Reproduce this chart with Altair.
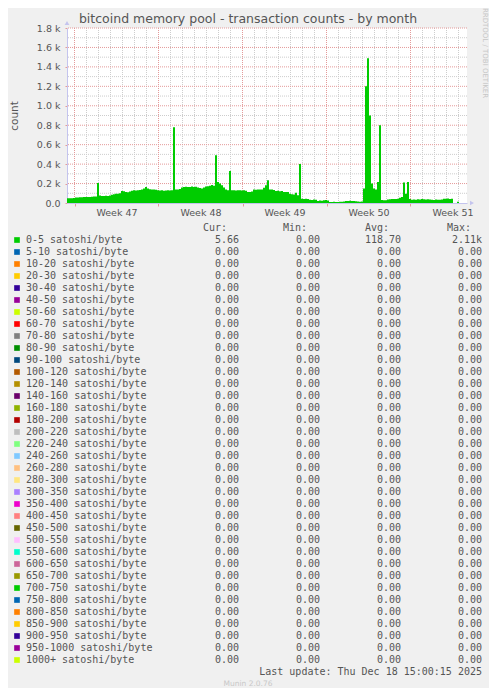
import altair as alt
import pandas as pd

TITLE = "bitcoind memory pool - transaction counts - by month"

# 0-5 satoshi/byte transaction count, one value per 4-hour step from graph start
counts_0_5 = [
    50, 50, 50, 52, 56, 57, 58, 60, 62, 62, 63, 62, 64, 66, 68, 205, 78, 72, 72, 74,
    72, 76, 86, 90, 96, 95, 100, 124, 120, 112, 110, 118, 127, 130, 128, 132, 135, 140, 150, 165,
    150, 142, 140, 138, 136, 130, 128, 130, 127, 128, 130, 128, 130, 780, 140, 138, 145, 160, 165, 168,
    165, 165, 170, 165, 168, 160, 155, 150, 160, 170, 172, 178, 186, 178, 492, 217, 200, 182, 160, 140,
    131, 330, 131, 130, 128, 132, 130, 128, 131, 125, 114, 112, 118, 138, 136, 140, 138, 140, 158, 182,
    234, 140, 138, 135, 124, 126, 122, 124, 114, 113, 112, 96, 90, 88, 105, 80, 400, 45, 42, 45,
    40, 34, 32, 35, 34, 21, 25, 22, 28, 30, 26, 10, 10, 12, 10, 10, 12, 14, 15, 20,
    21, 22, 20, 21, 18, 16, 14, 15, 150, 1200, 1490, 900, 200, 150, 140, 217, 800, 30, 28, 28,
    35, 38, 40, 42, 40, 45, 55, 62, 210, 96, 217, 40, 34, 35, 34, 38, 36, 40, 38, 35,
    38, 36, 34, 32, 35, 34, 33, 36, 45, 44, 46, 42, 45, 0, 0, 14, 0,
]
STEP_DAYS = 1 / 6            # 4 hours per step
X_END_DAYS = 400 / 12        # visible span of the graph in days
week_starts = [0.625, 7.625, 14.625, 21.625, 28.625]   # Monday 00:00 positions
week_numbers = [47, 48, 49, 50, 51]
day_lines = [0.625 + k for k in range(33)]
y_major = [0, 200, 400, 600, 800, 1000, 1200, 1400, 1600, 1800]
y_minor = [100, 300, 500, 700, 900, 1100, 1300, 1500, 1700]

ranges = ["0-5", "5-10", "10-20", "20-30", "30-40", "40-50", "50-60", "60-70", "70-80",
          "80-90", "90-100", "100-120", "120-140", "140-160", "160-180", "180-200",
          "200-220", "220-240", "240-260", "260-280", "280-300", "300-350", "350-400",
          "400-450", "450-500", "500-550", "550-600", "600-650", "650-700", "700-750",
          "750-800", "800-850", "850-900", "900-950", "950-1000", "1000+"]
labels = [r + " satoshi/byte" for r in ranges]
colors = ["#00CC00", "#0066B3", "#FF8000", "#FFCC00", "#330099", "#990099", "#CCFF00",
          "#FF0000", "#808080", "#008F00", "#00487D", "#B35A00", "#B38F00", "#6B006B",
          "#8FB300", "#B30000", "#BEBEBE", "#80FF80", "#80C9FF", "#FFC080", "#FFE680",
          "#AA80FF", "#EE00CC", "#FF8080", "#666600", "#FFBFFF", "#00FFCC", "#CC6699",
          "#999900", "#00CC00", "#0066B3", "#FF8000", "#FFCC00", "#330099", "#990099",
          "#CCFF00"]
cur_vals = [5.66] + [0.0] * 35
min_vals = [0.0] * 36
avg_vals = [118.70] + [0.0] * 35
max_vals = [2110.0] + [0.0] * 35
header = ["Cur:", "Min:", "Avg:", "Max:"]
LAST_UPDATE = "Last update: Thu Dec 18 15:00:15 2025"
MUNIN = "Munin 2.0.76"
RRD = "RRDTOOL / TOBI OETIKER"

NB = "\u00a0"


def fmt(v):
    if v >= 1000:
        return "%.2fk" % (v / 1000)
    return "%.2f" % v + NB


series = pd.DataFrame({"d": [i * STEP_DAYS for i in range(len(counts_0_5))],
                       "count": counts_0_5})

TXT = "#555555"
MONO = "DejaVu Sans Mono"
SANS = "DejaVu Sans"
MAJOR = "#E49A9A"
MINOR = "#CDCDCD"
AXISC = "#C4C4EE"

xs = alt.Scale(domain=[0, X_END_DAYS], nice=False, zero=False)
ys = alt.Scale(domain=[0, 1800], nice=False, zero=True)

week_expr = "'Week ' + (%d + round((datum.value - %s) / 7))" % (week_numbers[0], week_starts[0])

x_axis = alt.Axis(
    values=week_starts, grid=False, labelExpr=week_expr, labelOffset=42,
    labelFlush=False, labelOverlap=False, tickColor=MAJOR, tickSize=3,
    domainColor=AXISC, labelFont=SANS, labelFontSize=9.5, labelColor=TXT,
    labelPadding=1.5, title=None)
y_axis = alt.Axis(
    values=y_major, grid=False,
    labelExpr="datum.value == 0 ? '0.0' : format(datum.value / 1000, '.1f') + ' k'",
    tickColor=MAJOR, tickSize=2, domainColor=AXISC, labelFont=SANS,
    labelFontSize=9.5, labelColor=TXT, labelPadding=5,
    title="count", titleX=-53, titleY=87.5, titleAngle=270, titleAlign="center",
    titleBaseline="middle", titleFont=SANS, titleFontSize=10.5,
    titleFontWeight="normal", titleColor=TXT)

minor_v = alt.Chart(pd.DataFrame({"d": [d for d in day_lines if d not in week_starts]})).mark_rule(
    color=MINOR, strokeDash=[1, 1], strokeWidth=1).encode(x=alt.X("d:Q", scale=xs, axis=x_axis))
minor_h = alt.Chart(pd.DataFrame({"count": y_minor})).mark_rule(
    color=MINOR, strokeDash=[1, 1], strokeWidth=1).encode(
    y=alt.Y("count:Q", scale=ys, axis=y_axis))
major_v = alt.Chart(pd.DataFrame({"d": week_starts})).mark_rule(
    color=MAJOR, strokeDash=[1, 1], strokeWidth=1).encode(x=alt.X("d:Q", scale=xs, axis=x_axis))
major_h = alt.Chart(pd.DataFrame({"count": y_major[1:]})).mark_rule(
    color=MAJOR, strokeDash=[1, 1], strokeWidth=1).encode(
    y=alt.Y("count:Q", scale=ys, axis=y_axis))

area = alt.Chart(series).mark_area(color="#00CC00", interpolate="step-after").encode(
    x=alt.X("d:Q", scale=xs, axis=x_axis),
    y=alt.Y("count:Q", scale=ys, axis=y_axis),
)

one = pd.DataFrame({"t": [TITLE]})
arrow_up = alt.Chart(one).mark_point(shape="triangle-up", filled=True, size=22,
                                     color=AXISC, opacity=1).encode(
    x=alt.value(0), y=alt.value(-5))
arrow_right = alt.Chart(one).mark_point(shape="triangle-right", filled=True, size=22,
                                        color=AXISC, opacity=1).encode(
    x=alt.value(405), y=alt.value(175))

plot = alt.layer(minor_v, minor_h, major_v, major_h, area, arrow_up, arrow_right)

title = alt.Chart(one).mark_text(font=SANS, fontSize=12.5, color=TXT, align="center",
                                 baseline="middle").encode(
    x=alt.value(181), y=alt.value(-9), text="t:N")
rrd = alt.Chart(pd.DataFrame({"t": [RRD]})).mark_text(
    font=SANS, fontSize=7, color="#C6C6C6", align="center", baseline="middle",
    angle=90).encode(x=alt.value(418), y=alt.value(25), text="t:N")
munin = alt.Chart(pd.DataFrame({"t": [MUNIN]})).mark_text(
    font=SANS, fontSize=7.5, color="#C8C8C8", align="center", baseline="middle").encode(
    x=alt.value(181), y=alt.value(656), text="t:N")

legend_df = pd.DataFrame({
    "row": list(range(1, 37)),
    "label": labels,
    "cur": [fmt(v) for v in cur_vals],
    "min": [fmt(v) for v in min_vals],
    "avg": [fmt(v) for v in avg_vals],
    "max": [fmt(v) for v in max_vals],
})
head_df = pd.DataFrame({"row": [0] * 4, "h": header, "col": [0, 1, 2, 3]})
last_df = pd.DataFrame({"row": [37], "t": [LAST_UPDATE]})


def ly():
    return alt.Y("row:Q", scale=alt.Scale(domain=[0, 37], range=[200, 644], nice=False,
                                          zero=False), axis=None)


swatch = alt.Chart(legend_df).mark_square(size=32, opacity=1).encode(
    x=alt.value(-50), y=ly(),
    color=alt.Color("label:N", scale=alt.Scale(domain=labels, range=colors), legend=None))
txt_kw = dict(font=MONO, fontSize=10, color=TXT, baseline="middle")
lab = alt.Chart(legend_df).mark_text(align="left", **txt_kw).encode(
    x=alt.value(-41), y=ly(), text="label:N")
c_cur = alt.Chart(legend_df).mark_text(align="right", **txt_kw).encode(
    x=alt.value(172), y=ly(), text="cur:N")
c_min = alt.Chart(legend_df).mark_text(align="right", **txt_kw).encode(
    x=alt.value(253), y=ly(), text="min:N")
c_avg = alt.Chart(legend_df).mark_text(align="right", **txt_kw).encode(
    x=alt.value(334), y=ly(), text="avg:N")
c_max = alt.Chart(legend_df).mark_text(align="right", **txt_kw).encode(
    x=alt.value(415), y=ly(), text="max:N")
heads = []
for k, xpos in enumerate([136, 216, 298, 380]):
    heads.append(alt.Chart(head_df[head_df.col == k]).mark_text(align="left", **txt_kw).encode(
        x=alt.value(xpos), y=ly(), text="h:N"))
last = alt.Chart(last_df).mark_text(align="right", **txt_kw).encode(
    x=alt.value(415), y=ly(), text="t:N")

chart = alt.layer(plot, title, rrd, munin, swatch, lab, c_cur, c_min, c_avg, c_max,
                  *heads, last).resolve_scale(y="independent").properties(
    width=400, height=175,
    autosize=alt.AutoSizeParams(type="none"),
    padding={"left": 59, "right": 22, "top": 20, "bottom": 485},
    background="#F0F0F0",
).configure_view(fill="white", stroke=None)

chart.save("out.html", embed_options={"renderer": "svg", "actions": False})
